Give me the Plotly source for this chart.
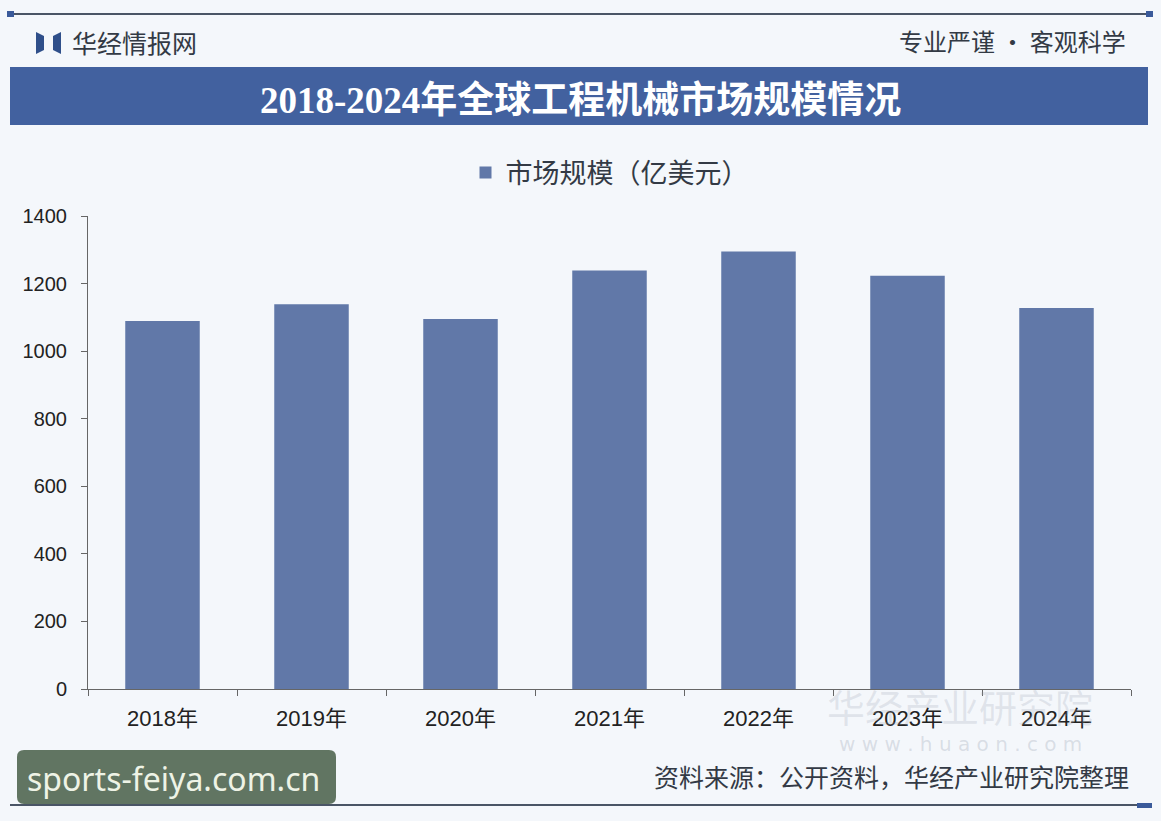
import plotly.graph_objects as go

years = ["2018年", "2019年", "2020年", "2021年", "2022年", "2023年", "2024年"]
market_size = [1089, 1139, 1095, 1239, 1295, 1223, 1128]
series_name = "市场规模（亿美元）"
title_text = "2018-2024年全球工程机械市场规模情况"
source_text = "资料来源：公开资料，华经产业研究院整理"
y_ticks = [0, 200, 400, 600, 800, 1000, 1200, 1400]

W, H = 1161, 821
L, R, T, B = 88, 1131, 216, 689

def px(x):
    return (x - L) / (R - L)

def py(y):
    return (B - y) / (B - T)

CJK = "Noto Sans CJK SC"
fig = go.Figure()
fig.add_trace(go.Bar(
    x=years, y=market_size, name=series_name, width=0.5,
    marker=dict(color="#6178a8", line=dict(width=0)),
    showlegend=True,
))

def rounded_rect(x0, y0, x1, y1, r):
    pts = (f"M {px(x0+r)},{py(y0)} L {px(x1-r)},{py(y0)} Q {px(x1)},{py(y0)} {px(x1)},{py(y0+r)} "
           f"L {px(x1)},{py(y1-r)} Q {px(x1)},{py(y1)} {px(x1-r)},{py(y1)} "
           f"L {px(x0+r)},{py(y1)} Q {px(x0)},{py(y1)} {px(x0)},{py(y1-r)} "
           f"L {px(x0)},{py(y0+r)} Q {px(x0)},{py(y0)} {px(x0+r)},{py(y0)} Z")
    return pts

shapes = []
# top rule
shapes.append(dict(type="line", xref="paper", yref="paper", x0=px(10), x1=px(1150), y0=py(14), y1=py(14),
                   line=dict(color="#4a5566", width=2)))
shapes.append(dict(type="rect", xref="paper", yref="paper", x0=px(7), x1=px(14), y0=py(11), y1=py(17),
                   fillcolor="#3a5a9a", line=dict(width=0)))
shapes.append(dict(type="rect", xref="paper", yref="paper", x0=px(1146), x1=px(1153), y0=py(11), y1=py(17),
                   fillcolor="#3a5a9a", line=dict(width=0)))
# title band
shapes.append(dict(type="rect", xref="paper", yref="paper", x0=px(10), x1=px(1148), y0=py(125), y1=py(67),
                   fillcolor="#42619f", line=dict(width=0), layer="below"))
# logo icon
shapes.append(dict(type="path", xref="paper", yref="paper",
                   path=f"M {px(36)},{py(32)} L {px(44)},{py(36)} L {px(44)},{py(50)} L {px(36)},{py(54)} Z",
                   fillcolor="#2f4f8a", line=dict(width=0)))
shapes.append(dict(type="path", xref="paper", yref="paper",
                   path=f"M {px(61)},{py(32)} L {px(53)},{py(36)} L {px(53)},{py(50)} L {px(61)},{py(54)} Z",
                   fillcolor="#2f4f8a", line=dict(width=0)))
# bottom rule
shapes.append(dict(type="line", xref="paper", yref="paper", x0=px(10), x1=px(1150), y0=py(805), y1=py(805),
                   line=dict(color="#4a5566", width=2)))
shapes.append(dict(type="rect", xref="paper", yref="paper", x0=px(1137), x1=px(1152), y0=py(803), y1=py(808),
                   fillcolor="#3a5a9a", line=dict(width=0)))
# watermark box
shapes.append(dict(type="path", xref="paper", yref="paper", path=rounded_rect(17, 750, 336, 804, 7),
                   fillcolor="#617562", line=dict(width=0), layer="above"))

annotations = [
    dict(text="华经情报网", xref="paper", yref="paper", x=px(70), y=py(42), xanchor="left", yanchor="middle",
         showarrow=False, font=dict(family=CJK, size=25, color="#333a45")),
    dict(text="专业严谨 • 客观科学", xref="paper", yref="paper", x=px(1128), y=py(40), xanchor="right", yanchor="middle",
         showarrow=False, font=dict(family=CJK, size=24, color="#333a45")),
    dict(text="<b>" + title_text + "</b>", xref="paper", yref="paper", x=px(580), y=py(100), xanchor="center",
         yanchor="middle", showarrow=False,
         font=dict(family="Liberation Serif, " + CJK, size=37, color="#ffffff")),
    dict(text="华经产业研究院", xref="paper", yref="paper", x=px(960), y=py(705), xanchor="center", yanchor="middle",
         showarrow=False, font=dict(family=CJK, size=38, color="rgba(150,160,175,0.22)")),
    dict(text="w w w . h u a o n . c o m", xref="paper", yref="paper", x=px(960), y=py(744), xanchor="center",
         yanchor="middle", showarrow=False, font=dict(family="DejaVu Sans", size=20, color="rgba(150,160,175,0.3)")),
    dict(text=source_text, xref="paper", yref="paper", x=px(1131), y=py(776), xanchor="right", yanchor="middle",
         showarrow=False, font=dict(family=CJK, size=25, color="#333a45")),
    dict(text="sports-feiya.com.cn", xref="paper", yref="paper", x=px(25), y=py(778), xanchor="left",
         yanchor="middle", showarrow=False, font=dict(family="Noto Sans", size=32, color="#eef3e6")),
]

fig.update_layout(
    width=W, height=H,
    margin=dict(l=L, r=W - R, t=T, b=H - B, autoexpand=False),
    paper_bgcolor="#f4f7fb", plot_bgcolor="#f4f7fb",
    bargap=0.5,
    shapes=shapes, annotations=annotations,
    legend=dict(orientation="h", x=0.5, xanchor="center", y=py(173), yanchor="middle",
                font=dict(family=CJK, size=27, color="#333a45"), bgcolor="rgba(0,0,0,0)",
                itemclick=False),
    xaxis=dict(type="category", showline=True, linecolor="#666", linewidth=1, ticks="outside",
               tickson="boundaries", ticklen=6, tickcolor="#666", showgrid=False, ticklabelstandoff=10,
               tickfont=dict(family="Liberation Sans, " + CJK, size=22, color="#222"), fixedrange=True),
    yaxis=dict(range=[0, 1400], tickvals=y_ticks, showline=True, linecolor="#666", linewidth=1,
               ticks="outside", ticklen=6, tickcolor="#666", showgrid=False, zeroline=False,
               ticklabelstandoff=10,
               tickfont=dict(family="Liberation Sans", size=20, color="#222"), fixedrange=True),
)

fig.write_html("out.html", config={"displayModeBar": False})
